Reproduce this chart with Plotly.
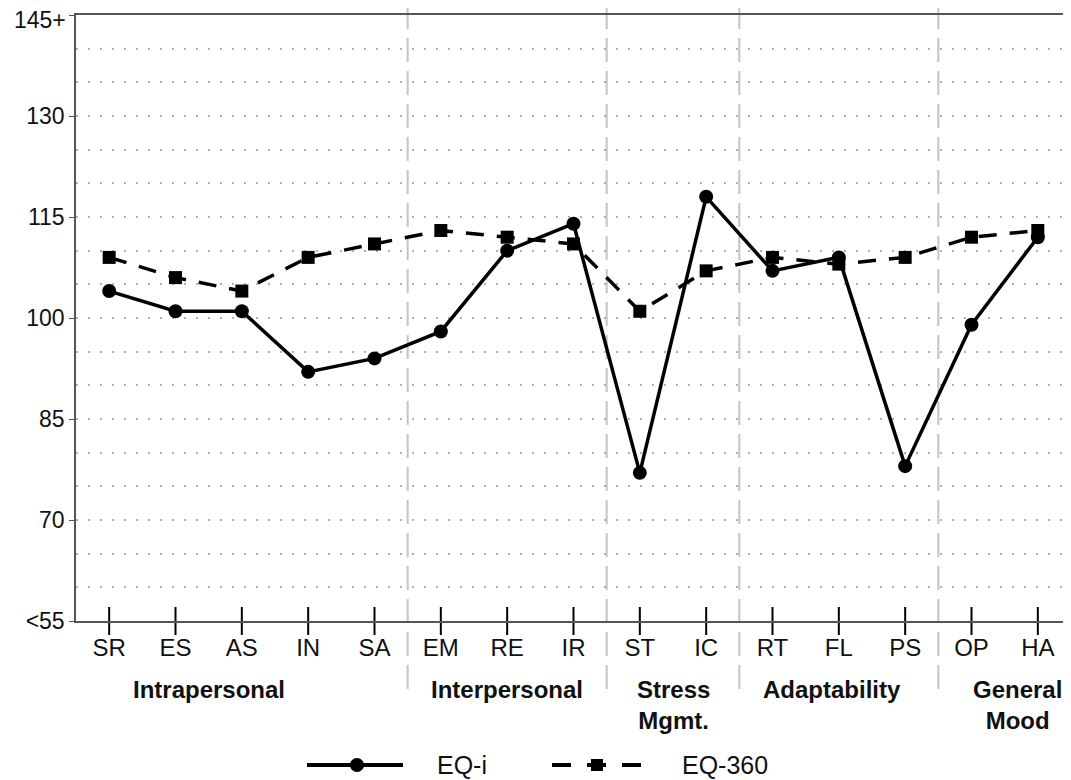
import plotly.graph_objects as go

# ---- data ----
categories = ["SR", "ES", "AS", "IN", "SA", "EM", "RE", "IR", "ST", "IC", "RT", "FL", "PS", "OP", "HA"]
eq_i = [104, 101, 101, 92, 94, 98, 110, 114, 77, 118, 107, 109, 78, 99, 112]
eq_360 = [109, 106, 104, 109, 111, 113, 112, 111, 101, 107, 109, 108, 109, 112, 113]
y_tick_vals = [55, 70, 85, 100, 115, 130, 145]
y_tick_text = ["<55", "70", "85", "100", "115", "130", "145+"]
group_names = ["Intrapersonal", "Interpersonal", "Stress<br>Mgmt.", "Adaptability", "General<br>Mood"]
group_last_index = [4, 7, 9, 12]          # separators after these categories
group_label_pos = [1.5, 6.0, 8.5, 10.9, 13.7]
series_names = ["EQ-i", "EQ-360"]

# the page body adds an 8px offset; compensate so the picture lines up
OFF = 8
W, H = 1071 - OFF, 780 - OFF
L, R, T = 76 - OFF, 0, 15 - OFF
PH = 606
B = H - T - PH
PW = W - L - R
XMIN, XMAX = -0.5, len(categories) - 0.5
YMIN, YMAX = 55, 145

def px_x(p):  # window pixel -> paper x
    return (p - OFF - L) / PW

def px_y(p):  # window pixel -> paper y
    return (T + PH - (p - OFF)) / PH

FONT = "Liberation Sans, Arial, sans-serif"

fig = go.Figure()

fig.add_trace(go.Scatter(
    x=categories, y=eq_i, mode="lines+markers", name=series_names[0],
    line=dict(color="black", width=3.5),
    marker=dict(symbol="circle", size=14, color="black"),
    showlegend=False,
))
fig.add_trace(go.Scatter(
    x=categories, y=eq_360, mode="lines+markers", name=series_names[1],
    line=dict(color="black", width=3.5, dash="18px,13px"),
    marker=dict(symbol="square", size=13, color="black"),
    showlegend=False,
))
# crossing tick marks on the category axis
fig.add_trace(go.Scatter(
    x=categories, y=[YMIN] * len(categories), mode="markers",
    marker=dict(symbol="line-ns", size=20, line=dict(color="black", width=2)),
    cliponaxis=False, showlegend=False, hoverinfo="skip",
))

shapes = []
# group separators
for b in group_last_index:
    xp = (b + 0.5 - XMIN) / (XMAX - XMIN)
    shapes.append(dict(type="line", xref="paper", yref="paper",
                       x0=xp, x1=xp, y0=px_y(5), y1=px_y(698),
                       line=dict(color="#c4c4c4", width=2, dash="24px,9px"),
                       layer="below"))

# manual legend
ly = px_y(765)
shapes.append(dict(type="line", xref="paper", yref="paper",
                   x0=px_x(307), x1=px_x(403), y0=ly, y1=ly,
                   line=dict(color="black", width=4)))
shapes.append(dict(type="circle", xref="paper", yref="paper",
                   x0=px_x(357 - 7), x1=px_x(357 + 7), y0=px_y(765 + 7), y1=px_y(765 - 7),
                   fillcolor="black", line=dict(color="black", width=0)))
shapes.append(dict(type="line", xref="paper", yref="paper",
                   x0=px_x(552), x1=px_x(642), y0=ly, y1=ly,
                   line=dict(color="black", width=4, dash="19px,16px")))
shapes.append(dict(type="rect", xref="paper", yref="paper",
                   x0=px_x(597 - 6), x1=px_x(597 + 6), y0=px_y(765 + 6), y1=px_y(765 - 6),
                   fillcolor="black", line=dict(color="black", width=0)))

annotations = []
for i, (name, pos) in enumerate(zip(group_names, group_label_pos)):
    last = i == len(group_names) - 1
    annotations.append(dict(x=px_x(1064) if last else pos, y=px_y(674),
                            xref="paper" if last else "x", yref="paper",
                            text="<b>" + name + "</b>", showarrow=False,
                            xanchor="right" if last else "center", yanchor="top", align="center",
                            font=dict(family=FONT, size=24, color="#111")))
annotations.append(dict(x=px_x(435), y=ly, xref="paper", yref="paper", text=series_names[0],
                        showarrow=False, xanchor="left", yanchor="middle",
                        font=dict(family=FONT, size=25, color="#111")))
annotations.append(dict(x=px_x(680), y=ly, xref="paper", yref="paper", text=series_names[1],
                        showarrow=False, xanchor="left", yanchor="middle",
                        font=dict(family=FONT, size=25, color="#111")))
# top tick label drawn a few pixels lower so it is not cut at the page edge
annotations.append(dict(x=px_x(68), y=y_tick_vals[-1], xref="paper", yref="y",
                        text=y_tick_text[-1], showarrow=False, xanchor="right",
                        yanchor="middle", yshift=-5,
                        font=dict(family=FONT, size=23, color="#111")))
axis_tick_text = y_tick_text[:-1] + [""]

fig.update_layout(
    width=W, height=H,
    margin=dict(l=L, r=R, t=T, b=B, pad=0, autoexpand=False),
    paper_bgcolor="white", plot_bgcolor="white",
    font=dict(family=FONT, size=24, color="#111"),
    shapes=shapes, annotations=annotations,
    showlegend=False,
)
fig.update_xaxes(
    type="category", range=[XMIN, XMAX], automargin=False,
    showgrid=False, zeroline=False,
    showline=True, linecolor="#555", linewidth=1.5, mirror=True,
    ticks="outside", ticklen=4, tickcolor="rgba(0,0,0,0)",
    tickfont=dict(family=FONT, size=24, color="#111"),
)
fig.update_yaxes(
    range=[YMIN, YMAX], tickvals=y_tick_vals, ticktext=axis_tick_text,
    ticklabeloverflow="allow", automargin=False,
    showline=True, linecolor="#555", linewidth=1.5,
    ticks="outside", ticklen=5, tickcolor="#555", tickwidth=1,
    showgrid=True, gridcolor="#b0b0b0", gridwidth=1.5, griddash="2px,10px",
    minor=dict(dtick=5, tick0=55, showgrid=True, gridcolor="#b0b0b0",
               gridwidth=1.5, griddash="2px,10px", ticks=""),
    zeroline=False,
    tickfont=dict(family=FONT, size=23, color="#111"),
)

fig.write_html("out.html")
